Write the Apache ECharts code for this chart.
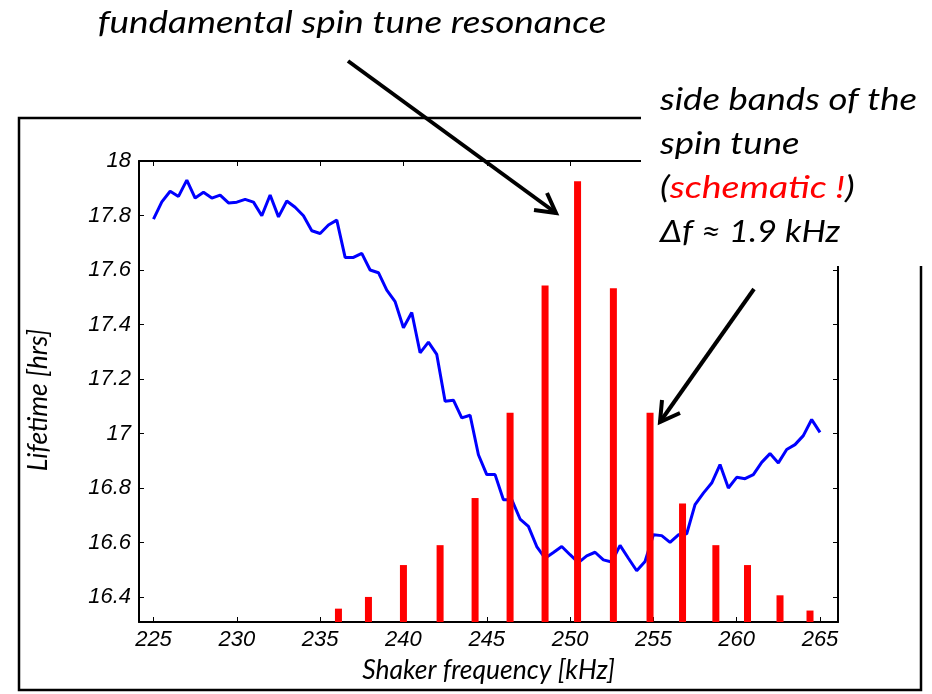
<!DOCTYPE html>
<html>
<head>
<meta charset="utf-8">
<script src="https://cdn.jsdelivr.net/npm/echarts@6/dist/echarts.min.js"></script>
<style>
html,body{margin:0;padding:0;background:#fff;}
#chart{width:932px;height:694px;}
</style>
</head>
<body>
<div id="chart"></div>
<script>
// ---- data ----
const freq = [225.0,225.5,226.0,226.5,227.0,227.5,228.0,228.5,229.0,229.5,
  230.0,230.5,231.0,231.5,232.0,232.5,233.0,233.5,234.0,234.5,
  235.0,235.5,236.0,236.5,237.0,237.5,238.0,238.5,239.0,239.5,
  240.0,240.5,241.0,241.5,242.0,242.5,243.0,243.5,244.0,244.5,
  245.0,245.5,246.0,246.5,247.0,247.5,248.0,248.5,249.0,249.5,
  250.0,250.5,251.0,251.5,252.0,252.5,253.0,253.5,254.0,254.5,
  255.0,255.5,256.0,256.5,257.0,257.5,258.0,258.5,259.0,259.5,
  260.0,260.5,261.0,261.5,262.0,262.5,263.0,263.5,264.0,264.5,265.0];
const lifetime = [17.787,17.850,17.889,17.870,17.930,17.864,17.885,17.864,17.875,17.846,
  17.849,17.859,17.849,17.799,17.875,17.795,17.853,17.830,17.799,17.744,
  17.734,17.765,17.783,17.646,17.646,17.661,17.600,17.590,17.526,17.484,
  17.388,17.444,17.296,17.335,17.290,17.118,17.122,17.057,17.067,16.922,
  16.849,16.849,16.757,16.757,16.686,16.659,16.585,16.542,16.563,16.585,
  16.555,16.526,16.551,16.564,16.536,16.528,16.589,16.542,16.496,16.530,
  16.628,16.625,16.600,16.628,16.632,16.739,16.781,16.818,16.886,16.800,
  16.839,16.834,16.849,16.894,16.926,16.892,16.941,16.959,16.992,17.051,17.004];
const sideFreq = [236.1,237.9,240.0,242.2,244.3,246.4,248.5,250.45,252.6,254.8,256.75,258.75,260.65,262.6,264.4];
const sideAmp  = [16.357,16.400,16.517,16.590,16.763,17.076,17.543,17.926,17.533,17.076,16.743,16.590,16.517,16.406,16.350];
const xTicks = [225,230,235,240,245,250,255,260,265];
const yTicks = [16.4,16.6,16.8,17,17.2,17.4,17.6,17.8,18];
const titleText = 'fundamental spin tune resonance';
const noteLines = ['side bands of the', 'spin tune', '{b|(}{r|schematic !}{b|)}', '\u0394f \u2248 1.9 kHz'];
const xName = 'Shaker frequency [kHz]';
const yName = 'Lifetime [hrs]';

// ---- chart ----
const chart = echarts.init(document.getElementById('chart'), null, {renderer:'canvas'});
const X_MIN = 224.13, X_MAX = 266.08, Y_MIN = 16.308, Y_MAX = 18.0;
const tickFont = {fontFamily:'Liberation Sans', fontStyle:'italic', fontSize:22, color:'#000'};
const nameFont = {fontFamily:'Lato', fontStyle:'italic', fontSize:26.5, color:'#000'};
const annFont = 'italic 31px Lato';
const axisLine = {onZero:false, lineStyle:{color:'#000', width:2}};
const noteScale = [1.18, 1.18, 1.21, 1.11];
const noteY = [100, 144, 188, 232];

const graphics = [
  {type:'rect', silent:true, z:1, shape:{x:19, y:118, width:902, height:572},
    style:{fill:'none', stroke:'#000', lineWidth:2.5}},
  {type:'rect', silent:true, z:100, shape:{x:641, y:45, width:291, height:221},
    style:{fill:'#fff', stroke:null}},
  {type:'text', silent:true, z:101, x:352, y:23, scaleX:1.19,
    style:{text:titleText, font:annFont, fill:'#000', align:'center', verticalAlign:'middle'}},
  {type:'text', silent:true, z:5, x:38, y:400, rotation:Math.PI/2,
    style:{text:yName, font:'italic 26.5px Lato', fill:'#000', align:'center', verticalAlign:'middle'}},
  // arrow 1
  {type:'polyline', silent:true, z:101, shape:{points:[[348,61],[556,213]]},
    style:{stroke:'#000', lineWidth:4, fill:null}},
  {type:'polyline', silent:true, z:101, shape:{points:[[547,193],[556,213],[534,210]]},
    style:{stroke:'#000', lineWidth:4, fill:null, lineJoin:'miter'}},
  // arrow 2
  {type:'polyline', silent:true, z:101, shape:{points:[[754,289],[660,422]]},
    style:{stroke:'#000', lineWidth:4, fill:null}},
  {type:'polyline', silent:true, z:101, shape:{points:[[680,413],[660,422],[662,400]]},
    style:{stroke:'#000', lineWidth:4, fill:null, lineJoin:'miter'}}
];
noteLines.forEach((t, i) => {
  graphics.push({type:'text', silent:true, z:101, x:660, y:noteY[i], scaleX:noteScale[i],
    style:{text:t, font:annFont, fill:'#000', align:'left', verticalAlign:'middle',
      rich:{b:{font:annFont, fill:'#000'}, r:{font:annFont, fill:'#ff0000'}}}});
});

const option = {
  animation:false,
  backgroundColor:'#fff',
  grid:{left:139, right:94, top:161, bottom:72},
  xAxis:[{
    type:'value', min:X_MIN, max:X_MAX, position:'bottom',
    axisLine:axisLine,
    axisTick:{inside:true, length:5, customValues:xTicks, lineStyle:{color:'#000', width:1}},
    axisLabel:Object.assign({customValues:xTicks, margin:7}, tickFont),
    splitLine:{show:false},
    name:xName, nameLocation:'middle', nameGap:35, nameTextStyle:nameFont
  },{
    type:'value', min:X_MIN, max:X_MAX, position:'top',
    axisLine:axisLine,
    axisTick:{inside:true, length:5, customValues:xTicks, lineStyle:{color:'#000', width:1}},
    axisLabel:{show:false}, splitLine:{show:false}
  }],
  yAxis:[{
    type:'value', min:Y_MIN, max:Y_MAX, position:'left',
    axisLine:axisLine,
    axisTick:{inside:true, length:5, customValues:yTicks, lineStyle:{color:'#000', width:1}},
    axisLabel:Object.assign({customValues:yTicks, margin:8}, tickFont),
    splitLine:{show:false}
  },{
    type:'value', min:Y_MIN, max:Y_MAX, position:'right',
    axisLine:axisLine,
    axisTick:{inside:true, length:5, customValues:yTicks, lineStyle:{color:'#000', width:1}},
    axisLabel:{show:false}, splitLine:{show:false}
  }],
  series:[{
    type:'line', xAxisIndex:0, yAxisIndex:0,
    data:freq.map((f,i)=>[f, lifetime[i]]),
    showSymbol:false, symbol:'none',
    lineStyle:{color:'#0000ff', width:3},
    z:2
  },{
    type:'bar', xAxisIndex:0, yAxisIndex:0,
    data:sideFreq.map((f,i)=>[f, sideAmp[i]]),
    barWidth:7, clip:true,
    itemStyle:{color:'#ff0000'},
    z:3
  }],
  graphic:graphics
};
chart.setOption(option);
</script>
</body>
</html>
